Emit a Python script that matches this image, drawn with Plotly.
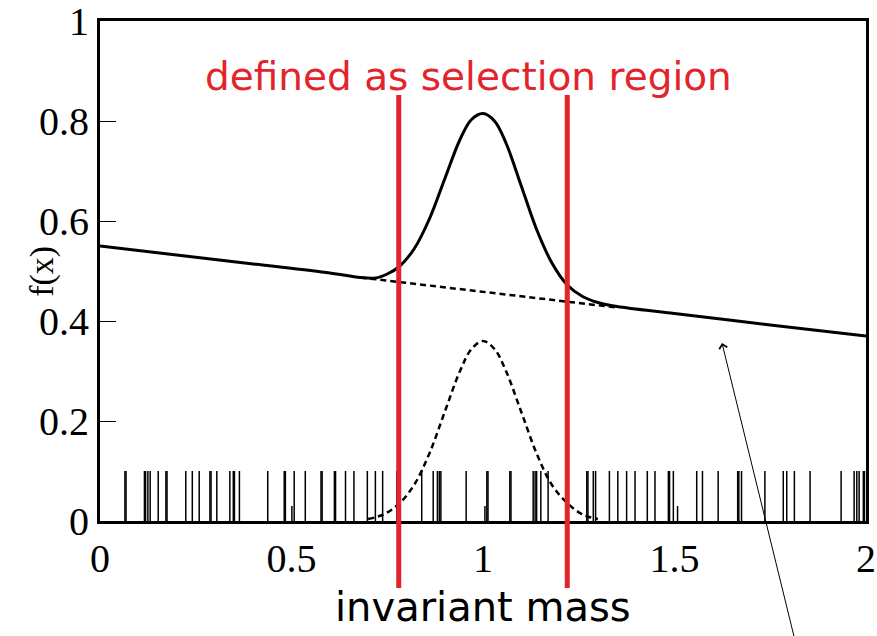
import plotly.graph_objects as go

# ---- data ----
total_x = [0, 0.2, 0.4, 0.6, 0.68, 0.72, 0.75, 0.78, 0.82, 0.86, 0.90, 0.94, 0.97, 1.00,
           1.03, 1.06, 1.10, 1.14, 1.18, 1.22, 1.26, 1.30, 1.35, 1.5, 1.75, 2.0]
total_y = [0.55, 0.532, 0.514, 0.496, 0.487, 0.486, 0.494, 0.508, 0.544, 0.604, 0.684, 0.763,
           0.803, 0.815, 0.800, 0.756, 0.670, 0.583, 0.516, 0.472, 0.449, 0.437, 0.429, 0.415,
           0.392, 0.37]

signal_x = [0.70, 0.74, 0.78, 0.82, 0.86, 0.90, 0.94, 0.97, 1.00, 1.03, 1.06, 1.10, 1.14,
            1.18, 1.22, 1.26, 1.30]
signal_y = [0.004, 0.013, 0.034, 0.072, 0.135, 0.218, 0.300, 0.344, 0.360, 0.344, 0.300,
            0.218, 0.135, 0.072, 0.036, 0.013, 0.004]

bkg_x = [0.68, 1.35]
bkg_y = [0.487, 0.427]

# rug of events (x positions) and their tick heights
events = [0.065, 0.068, 0.116, 0.119, 0.125, 0.131, 0.152, 0.172, 0.175, 0.224, 0.241, 0.259,
          0.287, 0.290, 0.305, 0.339, 0.348, 0.351, 0.364,
          0.438, 0.481, 0.484, 0.501, 0.507, 0.536, 0.577, 0.580, 0.612, 0.615, 0.641, 0.663,
          0.698, 0.719, 0.738, 0.775,
          0.840, 0.870, 0.881, 0.886, 0.890, 0.956, 1.005, 1.010, 1.013, 1.070, 1.073, 1.131,
          1.136, 1.140, 1.151, 1.170,
          1.271, 1.274, 1.288, 1.294, 1.330, 1.352, 1.375, 1.397, 1.429, 1.449, 1.484, 1.487,
          1.497, 1.508, 1.558, 1.573, 1.614,
          1.665, 1.668, 1.675, 1.736, 1.784, 1.793, 1.813, 1.854, 1.935, 1.969, 1.976, 1.982,
          1.993, 1.996]
short_events = [0.501, 1.005, 1.508]

cut_lo, cut_hi = 0.78, 1.22

x_ticks = [0, 0.5, 1, 1.5, 2]
x_tick_text = ["0", "0.5", "1", "1.5", "2"]
y_ticks = [0, 0.2, 0.4, 0.6, 0.8, 1]
y_tick_text = ["0", "0.2", "0.4", "0.6", "0.8", "1"]

RED = "#e3242b"

# ---- figure ----
fig = go.Figure()

rx, ry = [], []
for e in events:
    h = 0.03 if e in short_events else 0.1
    rx += [e, e, None]
    ry += [0, h, None]
fig.add_trace(go.Scatter(x=rx, y=ry, mode="lines", line=dict(color="black", width=1.5),
                         hoverinfo="skip", showlegend=False))

fig.add_trace(go.Scatter(x=bkg_x, y=bkg_y, mode="lines",
                         line=dict(color="black", width=2.5, dash="6px,4px"), showlegend=False))
fig.add_trace(go.Scatter(x=signal_x, y=signal_y, mode="lines", line_shape="spline",
                         line=dict(color="black", width=2.5, dash="6px,4px"), showlegend=False))
fig.add_trace(go.Scatter(x=total_x, y=total_y, mode="lines", line_shape="spline",
                         line=dict(color="black", width=3), showlegend=False))

for c in (cut_lo, cut_hi):
    fig.add_shape(type="line", xref="x", yref="paper", x0=c, x1=c, y0=-0.134, y1=0.852,
                  line=dict(color=RED, width=5), layer="above")

fig.add_annotation(text="defined as selection region", xref="x", yref="paper", x=0.961, y=0.89,
                   showarrow=False, font=dict(family="DejaVu Sans", size=39, color=RED),
                   xanchor="center", yanchor="middle")
fig.add_annotation(text="invariant mass", xref="x", yref="paper", x=1.0, y=-0.172,
                   showarrow=False, font=dict(family="DejaVu Sans", size=40, color="black"),
                   xanchor="center", yanchor="middle")
fig.add_annotation(text="f(x)", xref="paper", yref="paper", x=-0.076, y=0.5, textangle=-90,
                   showarrow=False, font=dict(family="Liberation Serif", size=34, color="black"),
                   xanchor="center", yanchor="middle")
fig.add_annotation(text="", xref="x", yref="y", x=1.624, y=0.356, axref="x", ayref="y",
                   ax=1.815, ay=-0.24, showarrow=True, arrowhead=4, arrowsize=1.6,
                   arrowwidth=1, arrowcolor="black")

fig.update_layout(
    width=877, height=636,
    margin=dict(l=100, r=11, t=21, b=115, autoexpand=False),
    paper_bgcolor="white", plot_bgcolor="white",
    xaxis=dict(range=[0, 2], tickvals=x_ticks, ticktext=x_tick_text, ticks="",
               automargin=False, ticklabeloverflow="allow",
               showgrid=False, zeroline=False, showline=True, linecolor="black", linewidth=3,
               mirror=True, tickfont=dict(family="Liberation Serif", size=40, color="black")),
    yaxis=dict(range=[0, 1], tickvals=y_ticks, ticktext=y_tick_text, ticks="inside",
               ticklen=16, tickwidth=1, tickcolor="black", automargin=False,
               ticklabeloverflow="allow",
               showgrid=False, zeroline=False, showline=True, linecolor="black", linewidth=3,
               mirror=True, tickfont=dict(family="Liberation Serif", size=40, color="black")),
)

fig.write_html("out.html")
